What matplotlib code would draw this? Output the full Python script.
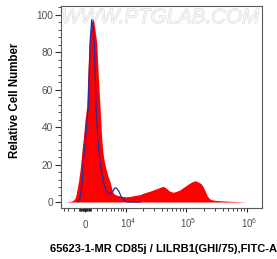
import numpy as np
import matplotlib
matplotlib.use("Agg")
import matplotlib.pyplot as plt
import matplotlib.transforms as mtransforms
import matplotlib.patheffects as pe
from matplotlib.ticker import FixedLocator, FixedFormatter, MultipleLocator

plt.rcParams["font.family"] = ["Liberation Sans", "DejaVu Sans"]
plt.rcParams["mathtext.fontset"] = "custom"
plt.rcParams["mathtext.rm"] = "Liberation Sans"

# ---- data (fluorescence intensity, relative cell number %) ----
red_x = [-3483, -2665, -2092, -1725, -1546, -1107, -847, -677, -507, -287, 0,
         287, 456, 728, 1020, 1316, 1546, 1816, 2036, 2337, 2665, 3004, 3273,
         3549, 4083, 4501, 4860, 5292, 5634, 6194, 7117, 8483, 10015, 11809,
         14399, 17546, 21262, 25760, 31181, 37743, 42270, 47360, 53080, 61770,
         69190, 80470, 93600, 108900, 126650, 141900, 152950, 165000, 177950,
         191900, 206950, 223200, 240700, 259600, 301900, 364700, 531700,
         775000, 973600]
red_y = [0, 0.3, 0.8, 2, 3.7, 11, 17, 22, 28, 34, 44,
         51, 67, 85, 95, 98, 96, 90, 85, 67, 51, 34, 26,
         21.6, 16.2, 13, 10.9, 7.3, 5, 4, 3.5, 3, 2.8, 3,
         3.5, 4, 5, 5.8, 6.8, 7.8, 8.4, 7.5, 6, 5.2,
         5.6, 6.5, 8, 9.5, 10.8, 11.4, 11, 10.5, 9.8,
         8.2, 6, 3.5, 2, 1.3, 0.9, 0.7, 0.4,
         0.2, 0]

blue_x = [-1193, -847, -507, -287, 118, 558, 847, 1141, 1368, 1599, 1907, 2223,
          2665, 3335, 3919, 4860, 5502, 6194, 6782, 7462, 8126, 9242, 10467,
          17546]
blue_y = [0, 2, 10, 21.6, 34, 52, 85, 97.5, 92, 85, 52, 34,
          21.6, 10.9, 6, 4.1, 5.5, 7.6, 7.2, 5.5, 3, 1, 0,
          0]

x_major = [0, 1e4, 1e5, 1e6]
x_major_labels = ["0", r"$\mathregular{10^{4}}$", r"$\mathregular{10^{5}}$",
                  r"$\mathregular{10^{6}}$"]
x_minor = ([-4000, -3000, -2000, -1000]
           + list(range(-900, 0, 100)) + list(range(100, 1000, 100))
           + list(range(1000, 10000, 1000))
           + list(range(20000, 100000, 10000))
           + list(range(200000, 1000000, 100000)))
y_major = [0, 20, 40, 60, 80, 100]

W = 4464.0


def fwd(x):
    return np.arcsinh(np.asarray(x, dtype=float) / W) / np.log(10)


def inv(y):
    return W * np.sinh(np.asarray(y, dtype=float) * np.log(10))


fig = plt.figure(figsize=(2.77, 2.59), dpi=100)
ax = fig.add_axes([61 / 277, 1 - 208 / 259, (262 - 61) / 277, (208 - 6) / 259])
ax.set_xscale("function", functions=(fwd, inv))
ax.set_xlim(-4625, 1.776e6)
ax.set_ylim(-3.2, 104.8)

ax.fill_between(red_x, 0, red_y, color="#ff0000", lw=0, zorder=2)
ax.plot(blue_x, blue_y, color="#2b2b9e", lw=0.9, zorder=3)

spine_c = "#5a5a5a"
for s in ax.spines.values():
    s.set_color(spine_c)
    s.set_linewidth(0.8)

ax.xaxis.set_major_locator(FixedLocator(x_major))
ax.xaxis.set_major_formatter(FixedFormatter(x_major_labels))
ax.xaxis.set_minor_locator(FixedLocator(x_minor))
ax.yaxis.set_major_locator(FixedLocator(y_major))
ax.yaxis.set_minor_locator(MultipleLocator(4))

ax.tick_params(axis="x", which="major", length=3.0, width=0.8, color="#222222",
               labelsize=7.0, labelcolor="#505050", pad=11.5, direction="out")
ax.tick_params(axis="x", which="minor", length=1.8, width=0.6, color="#222222",
               direction="out")
ax.tick_params(axis="y", which="major", length=4.3, width=0.8, color="#333333",
               labelsize=7.3, labelcolor="#505050", pad=1.5, direction="out")
ax.tick_params(axis="y", which="minor", length=2.2, width=0.6, color="#333333",
               direction="out")

offset = mtransforms.ScaledTranslation(2 / 100, 0, fig.dpi_scale_trans)
for i, lab in enumerate(ax.get_xticklabels()):
    lab.set_verticalalignment("baseline")
    if i > 0:
        lab.set_transform(lab.get_transform() + offset)

ax.set_ylabel("Relative Cell Number", fontsize=8.3, fontweight="bold",
              labelpad=0)
ax.yaxis.set_label_coords(-(61 - 15.5) / 201, (208 - 100.5) / 202)
ax.yaxis.label.set_verticalalignment("center")
ax.set_xlabel("65623-1-MR CD85j / LILRB1(GHI/75),FITC-A", fontsize=8.0,
              fontweight="bold")
ax.xaxis.set_label_coords((163 - 61) / 201, -(248.5 - 208) / 202)
ax.xaxis.label.set_verticalalignment("center")

ax.text((160 - 61) / 201, (208 - 8) / 202, "WWW.PTGLAB.COM",
        transform=ax.transAxes, ha="center", va="top", fontsize=14.8,
        fontstyle="italic", color="#f6f6f6", zorder=1,
        path_effects=[pe.withStroke(linewidth=0.6, foreground="#d2d2d2")])

fig.savefig("out.png", dpi=100)
